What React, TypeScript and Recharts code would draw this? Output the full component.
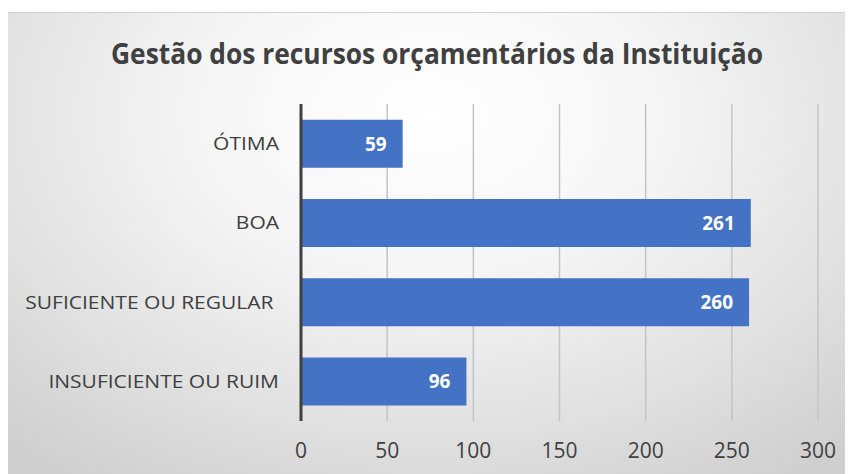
import { BarChart, Bar, XAxis, YAxis, CartesianGrid, LabelList } from "recharts";

const categories = ["ÓTIMA", "BOA", "SUFICIENTE OU REGULAR ", "INSUFICIENTE OU RUIM"];
const respostas = [59, 261, 260, 96];
const xTicks = [0, 50, 100, 150, 200, 250, 300];

const chartData = categories.map((name, i) => ({ name, value: respostas[i] }));

const font = "'Open Sans', 'Noto Sans', sans-serif";

// Calibri-like width: Open Sans stretched horizontally
function CategoryTick(props: any) {
  const { x, y, payload } = props;
  return (
    <g transform={`translate(${x},${y})`}>
      <text
        transform="scale(1.13,1)"
        textAnchor="end"
        dy="0.355em"
        fontSize={18.6}
        fill="#404040"
        fontFamily={font}
        style={{ whiteSpace: "pre" }}
      >
        {payload.value}
      </text>
    </g>
  );
}

export default function App() {
  return (
    <div
      style={{
        position: "relative",
        width: 845,
        height: 462,
        marginTop: 4,
        borderTop: "1px solid #d0d0d0",
        background:
          "radial-gradient(ellipse 75% 95% at 50% 22%, #ffffff 0%, #f6f6f6 35%, #e2e2e2 70%, #cfcfcf 100%)",
        fontFamily: font,
      }}
    >
      <svg width={845} height={80} style={{ position: "absolute", left: 0, top: 0 }}>
        <text
          x={429}
          y={51}
          textAnchor="middle"
          fontSize={28}
          fontWeight={700}
          fill="#404040"
          fontFamily={font}
          textLength={652}
          lengthAdjust="spacingAndGlyphs"
        >
          Gestão dos recursos orçamentários da Instituição
        </text>
      </svg>
      <BarChart
        width={845}
        height={462}
        data={chartData}
        layout="vertical"
        margin={{ top: 91, right: 35, bottom: 24, left: 0 }}
        barCategoryGap="20%"
      >
        <CartesianGrid horizontal={false} stroke="#c4c4c4" strokeWidth={1.5} />
        <XAxis
          type="number"
          domain={[0, 300]}
          ticks={xTicks}
          axisLine={false}
          tickLine={false}
          tickSize={0}
          tickMargin={22}
          height={30}
          tick={{ fill: "#404040", fontSize: 21, fontFamily: font }}
        />
        <YAxis
          type="category"
          dataKey="name"
          width={293}
          axisLine={{ stroke: "#404040", strokeWidth: 3 }}
          tickLine={false}
          tickSize={0}
          tickMargin={22}
          tick={<CategoryTick />}
        />
        <Bar dataKey="value" fill="#4472C4" isAnimationActive={false}>
          <LabelList
            dataKey="value"
            position="insideRight"
            offset={16}
            fill="#ffffff"
            fontSize={19}
            fontWeight={700}
            fontFamily={font}
          />
        </Bar>
      </BarChart>
    </div>
  );
}
